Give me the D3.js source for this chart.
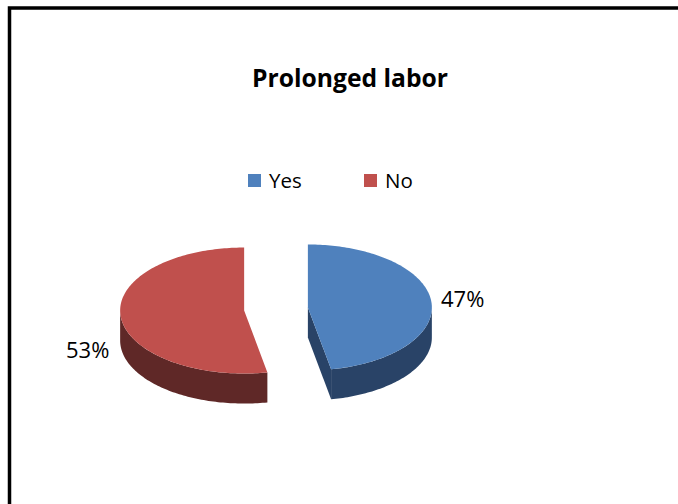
<!DOCTYPE html>
<html>
<head>
<meta charset="utf-8">
<script src="https://cdn.jsdelivr.net/npm/d3@7"></script>
<style>
  html, body { margin: 0; padding: 0; background: #fff; }
  svg { display: block; }
</style>
</head>
<body>
<svg id="chart" width="678" height="504"></svg>
<script>
const title = "Prolonged labor";
const categories = ["Yes", "No"];
const values = [47, 53];
const labels = ["47%", "53%"];
const topColors = ["#4F81BD", "#C0504D"];
const sideColors = ["#294367", "#5F2827"];

const svg = d3.select("#chart");
const W = 678, H = 504;

svg.append("rect").attr("x", 0).attr("y", 0).attr("width", W).attr("height", H).attr("fill", "#fff");
// outer frame (continues past the right and bottom edges)
svg.append("rect")
  .attr("x", 9.5).attr("y", 8).attr("width", W + 20).attr("height", H + 20)
  .attr("fill", "none").attr("stroke", "#000").attr("stroke-width", 3.5);

svg.append("text")
  .attr("x", 350).attr("y", 87)
  .attr("text-anchor", "middle")
  .attr("font-family", "'Open Sans', Lato, sans-serif")
  .attr("font-weight", "bold")
  .attr("font-size", 25)
  .attr("textLength", 196).attr("lengthAdjust", "spacingAndGlyphs")
  .attr("fill", "#000")
  .text(title);

// legend
const legendX = d3.scaleOrdinal().domain(categories).range([248, 364]);
const lg = svg.append("g");
categories.forEach((c, i) => {
  lg.append("rect").attr("x", legendX(c)).attr("y", 174).attr("width", 13).attr("height", 13)
    .attr("fill", topColors[i]);
  lg.append("text").attr("x", legendX(c) + 21).attr("y", 188)
    .attr("font-family", "'Open Sans', Lato, sans-serif").attr("font-size", 20.5)
    .attr("fill", "#000").text(c);
});

// 3D pie
const cx = 276, cy = 309, rx = 124, ry = 63, depth = 30, explode = 32;
const pie = d3.pie().sort(null).startAngle(0).endAngle(2 * Math.PI)(values);

function pt(a, ox, oy, dz) {
  return [ox + rx * Math.sin(a), oy - ry * Math.cos(a) + (dz || 0)];
}
function arcPts(a0, a1, ox, oy, dz) {
  const n = Math.max(2, Math.ceil(Math.abs(a1 - a0) / 0.02));
  return d3.range(n + 1).map(k => pt(a0 + (a1 - a0) * k / n, ox, oy, dz));
}
const line = d3.line();

const g = svg.append("g");
pie.forEach((d, i) => {
  const mid = (d.startAngle + d.endAngle) / 2;
  const ox = cx + explode * Math.sin(mid);
  const oy = cy - explode * (ry / rx) * Math.cos(mid);

  // outer wall, visible for angles between PI/2 and 3PI/2
  const w0 = Math.max(d.startAngle, Math.PI / 2);
  const w1 = Math.min(d.endAngle, 3 * Math.PI / 2);
  if (w1 > w0) {
    const top = arcPts(w0, w1, ox, oy, 0);
    const bot = arcPts(w1, w0, ox, oy, depth);
    g.append("path").attr("d", line(top.concat(bot)) + "Z").attr("fill", sideColors[i]);
  }
  // cut face at end angle (visible when it faces the viewer)
  const a = d.endAngle;
  if (Math.sin(a) > 0 && -Math.cos(a) > 0 && a < Math.PI) {
    const e = pt(a, ox, oy, 0);
    g.append("path")
      .attr("d", line([[ox, oy], e, [e[0], e[1] + depth], [ox, oy + depth]]) + "Z")
      .attr("fill", sideColors[i]);
  }
  // top face
  const topPts = [[ox, oy]].concat(arcPts(d.startAngle, d.endAngle, ox, oy, 0));
  g.append("path").attr("d", line(topPts) + "Z").attr("fill", topColors[i]);
});

// data labels
const labelPos = [[441, 307], [66, 358]];
labels.forEach((t, i) => {
  svg.append("text").attr("x", labelPos[i][0]).attr("y", labelPos[i][1])
    .attr("font-family", "'Open Sans', Lato, sans-serif").attr("font-size", 22)
    .attr("fill", "#000").text(t);
});
</script>
</body>
</html>
